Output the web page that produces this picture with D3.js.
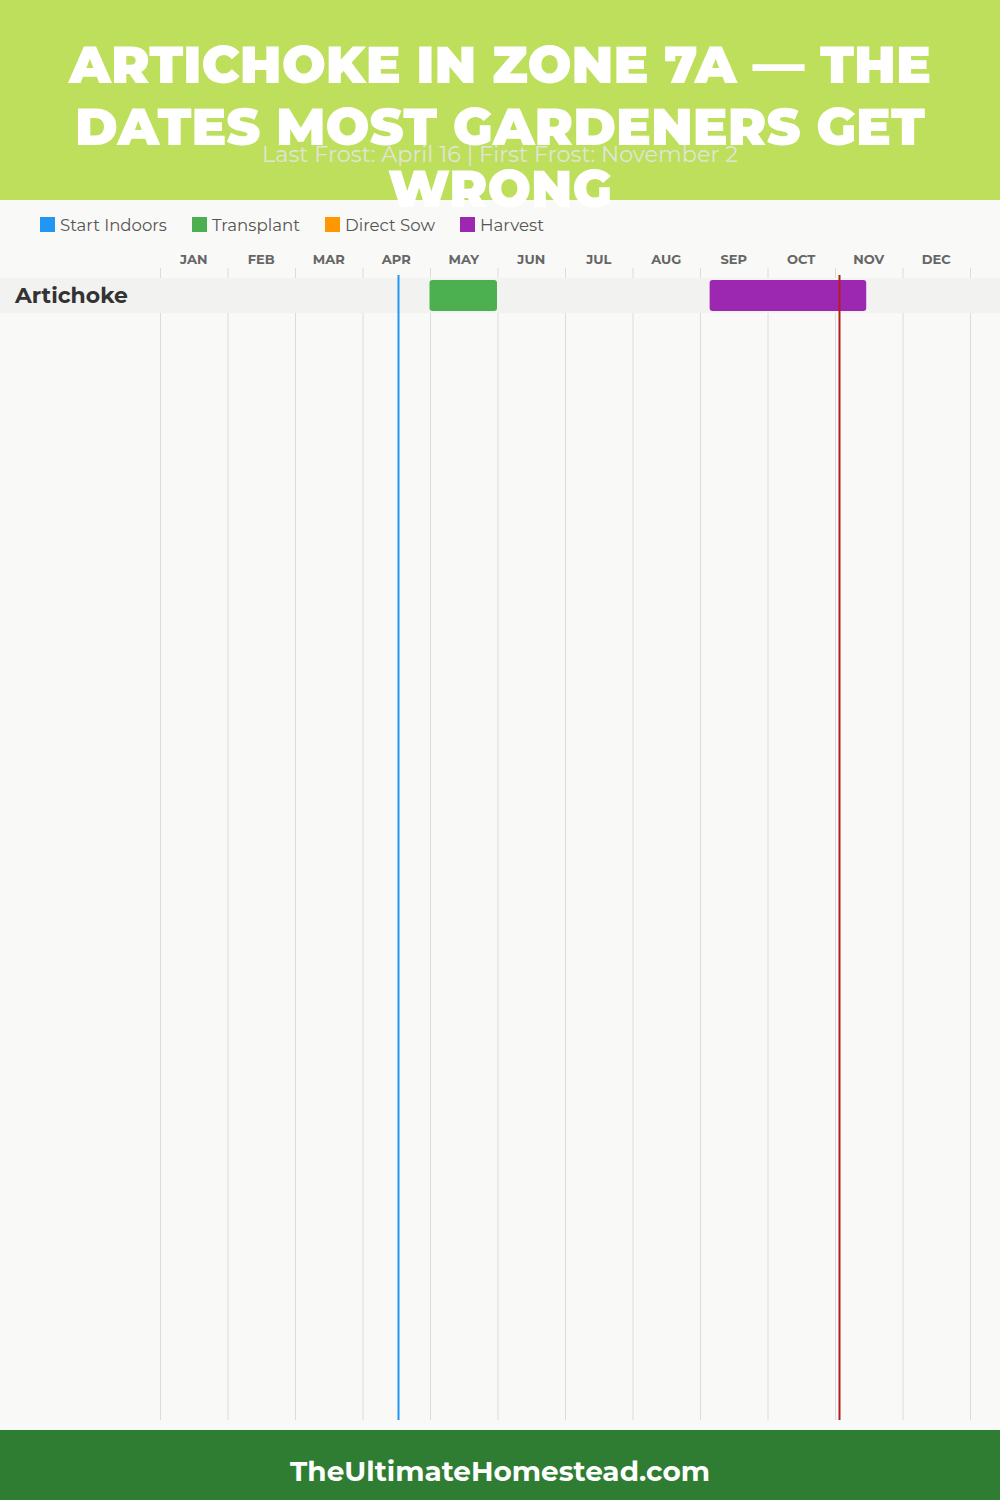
<!DOCTYPE html>
<html><head><meta charset="utf-8">
<script src="https://cdn.jsdelivr.net/npm/d3@7"></script>
<style>html,body{margin:0;padding:0;background:#f9f9f7;}svg{display:block;}</style>
</head><body><div id="chart"></div>
<script>
const titleLines = ["ARTICHOKE IN ZONE 7A — THE", "DATES MOST GARDENERS GET", "WRONG"];
const subtitle = "Last Frost: April 16 | First Frost: November 2";
const footerText = "TheUltimateHomestead.com";
const months = ["JAN","FEB","MAR","APR","MAY","JUN","JUL","AUG","SEP","OCT","NOV","DEC"];
const legendNames = ["Start Indoors","Transplant","Direct Sow","Harvest"];
const legendColors = ["#2196F3","#4CAF50","#FF9800","#9C27B0"];
const crops = ["Artichoke"];
// bars: [crop, activity, start (month index + fraction), end]
const barCrop = ["Artichoke","Artichoke"];
const barActivity = ["Transplant","Harvest"];
const barStart = [4.0, 8.15];
const barEnd = [5.0, 10.47];
// frost dates [month (1-12), day]
const frostNames = ["Last Frost","First Frost"];
const frostDates = [[4,16],[11,2]];
const frostColors = ["#2196F3","#b71c1c"];

const W = 1000, H = 1500;
const svg = d3.select("#chart").append("svg").attr("width", W).attr("height", H);
const FONT = "Montserrat, 'DejaVu Sans', sans-serif";

function fit(sel, target){
  const n = sel.node(); const w = n.getComputedTextLength();
  const fs = parseFloat(sel.attr("font-size"));
  sel.attr("font-size", (fs*target/w).toFixed(2));
}

svg.append("rect").attr("width",W).attr("height",H).attr("fill","#f9f9f7");
svg.append("rect").attr("width",W).attr("height",200).attr("fill","#bddf5b");

const x = d3.scaleLinear().domain([0,12]).range([160,970]);
const y = d3.scaleBand().domain(crops).range([278, 278+35*crops.length]);

// grid
svg.append("g").selectAll("line").data(d3.range(13)).join("line")
  .attr("x1", d=>x(d)+0.5).attr("x2", d=>x(d)+0.5).attr("y1",268).attr("y2",1420)
  .attr("stroke","#dcdcdc").attr("stroke-width",1);

// month labels
svg.append("g").selectAll("text").data(months).join("text")
  .attr("x",(d,i)=>x(i+0.5)).attr("y",264).attr("text-anchor","middle")
  .attr("font-family",FONT).attr("font-weight","bold").attr("font-size",13)
  .attr("fill","#666").text(d=>d);

// row band
svg.append("g").selectAll("rect").data(crops).join("rect")
  .attr("x",0).attr("width",W).attr("y",d=>y(d)).attr("height",y.bandwidth())
  .attr("fill","#f2f2f0");
const rowLabels = svg.append("g").selectAll("text").data(crops).join("text")
  .attr("x",15).attr("y",d=>y(d)+y.bandwidth()/2+7)
  .attr("font-family",FONT).attr("font-weight","bold").attr("font-size",21)
  .attr("fill","#333").text(d=>d);
rowLabels.each(function(){ fit(d3.select(this), 113); });

// bars
const color = d3.scaleOrdinal().domain(legendNames).range(legendColors);
svg.append("g").selectAll("rect").data(barCrop.map((c,i)=>({c, a:barActivity[i], s:barStart[i], e:barEnd[i]}))).join("rect")
  .attr("x",d=>x(d.s)-0.5).attr("width",d=>x(d.e)-x(d.s))
  .attr("y",d=>y(d.c)+2).attr("height",y.bandwidth()-4).attr("rx",3)
  .attr("fill",d=>color(d.a));

// frost lines
svg.append("g").selectAll("line").data(frostDates).join("line")
  .attr("x1",d=>x(d[0]-1+d[1]/30)).attr("x2",d=>x(d[0]-1+d[1]/30))
  .attr("y1",275).attr("y2",1420)
  .attr("stroke",(d,i)=>frostColors[i]).attr("stroke-width",2);

// legend
const legX = [40,192,325,460];
const leg = svg.append("g").selectAll("g").data(legendNames).join("g")
  .attr("transform",(d,i)=>`translate(${legX[i]},217)`);
leg.append("rect").attr("width",15).attr("height",15).attr("fill",(d,i)=>legendColors[i]);
leg.append("text").attr("x",20).attr("y",13.5).attr("font-family",FONT)
  .attr("font-size",16).attr("fill","#555").text(d=>d)
  .each(function(d,i){ fit(d3.select(this), [107,88,90,64][i]); });

// title
const tW = [862,850,224];
titleLines.forEach((t,i)=>{
  const s = svg.append("text").attr("x",W/2).attr("y",83+i*62).attr("text-anchor","middle")
    .attr("font-family",FONT).attr("font-weight","900").attr("font-size",52)
    .attr("fill","#fff").text(t);
  s.attr("textLength", tW[i]).attr("lengthAdjust","spacingAndGlyphs");
});
const sub = svg.append("text").attr("x",W/2).attr("y",162).attr("text-anchor","middle")
  .attr("font-family",FONT).attr("font-size",20).attr("fill","#e6e6e6").attr("fill-opacity",0.9).text(subtitle);
fit(sub, 476);

// footer
svg.append("rect").attr("y",1430).attr("width",W).attr("height",70).attr("fill","#2e7d32");
const ft = svg.append("text").attr("x",W/2).attr("y",1481).attr("text-anchor","middle")
  .attr("font-family",FONT).attr("font-weight","bold").attr("font-size",28).attr("fill","#fff").text(footerText);
fit(ft, 420);
</script></body></html>
